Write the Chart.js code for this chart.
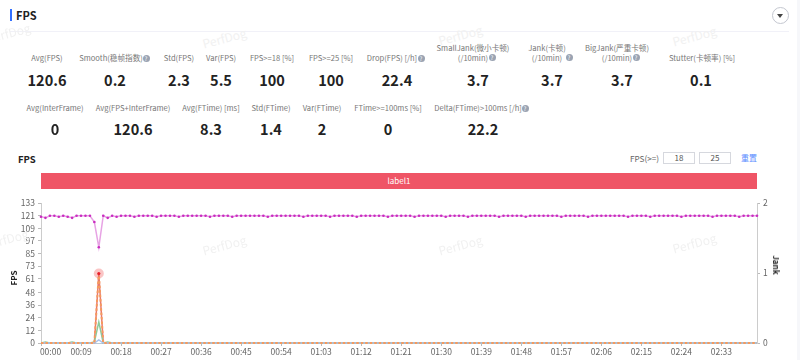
<!DOCTYPE html>
<html>
<head>
<meta charset="utf-8">
<title>FPS</title>
<script src="https://cdn.jsdelivr.net/npm/chart.js@4/dist/chart.umd.min.js"></script>
<style>
    html, body { margin: 0; padding: 0; background: #fff; }
    body { position: relative; width: 800px; height: 360px; overflow: hidden; font-family: "Noto Sans CJK SC", "Noto Sans", sans-serif; }
    body > * { position: absolute; }
    .side { left: 797px; top: 0; width: 3px; height: 360px; background: #f6f7fa; }
    .bar { left: 10px; top: 9px; width: 2px; height: 12px; background: #3370ff; }
    .head { left: 16px; top: 7px; font-size: 11px; font-weight: 700; line-height: 16px; color: #222; }
    .divider { left: 10px; top: 31px; width: 779px; height: 1px; background: #f1f1f8; }
    .toggle { left: 772px; top: 7px; width: 15px; height: 15px; border: 1px solid #c4c7d0; border-radius: 50%; }
    .toggle:after { content: ""; position: absolute; left: 4px; top: 6px; border: 3.5px solid transparent; border-top: 4px solid #444; border-bottom: 0; }
    .label, .value { transform: translateX(-50%); white-space: nowrap; text-align: center; }
    .label { font-size: 7.6px; line-height: 10px; color: #777; }
    .value { font-size: 14.5px; font-weight: 700; line-height: 18px; color: #222; }
    .help { width: 7px; height: 7px; border-radius: 50%; background: #9aa3b2; color: #fff; font-size: 6px; line-height: 7px; text-align: center; }
    .mark { font-size: 12px; line-height: 14px; color: #f1f1f1; transform: rotate(-15deg); white-space: nowrap; }
    .sub { left: 18px; top: 152px; font-size: 9.5px; font-weight: 700; line-height: 14px; color: #222; }
    .thr { left: 630px; top: 153px; font-size: 8.2px; line-height: 11px; color: #666; }
    .inp { top: 152px; width: 30px; height: 10px; border: 1px solid #d6d8de; font-size: 8px; line-height: 10px; text-align: center; color: #555; }
    .reset { left: 741px; top: 152px; font-size: 8px; line-height: 12px; color: #5b8cff; }
    .band { left: 41px; top: 173px; width: 716px; height: 16px; background: #ef5566; color: #fff; font-size: 8px; line-height: 16px; text-align: center; }
    canvas { left: 0; top: 195px; }
    .axis { font-size: 8px; font-weight: 700; line-height: 10px; color: #222; white-space: nowrap; }
</style>
</head>
<body>
<div class="side"></div>
<div class="bar"></div>
<div class="head">FPS</div>
<div class="divider"></div>
<div class="toggle"></div>
<div class="sub">FPS</div>
<div class="thr">FPS(&gt;=)</div>
<div class="inp" style="left:663px">18</div>
<div class="inp" style="left:699px">25</div>
<div class="reset">重置</div>
<div class="band">label1</div>
<canvas id="fpsChart" width="800" height="165"></canvas>
<div class="axis" style="left:14px;top:278px;transform:translate(-50%,-50%) rotate(-90deg)">FPS</div>
<div class="axis" style="left:776px;top:265px;transform:translate(-50%,-50%) rotate(90deg)">Jank</div>

<script>
// 차트 데이터
const xTickLabels = ['00:00', '00:09', '00:18', '00:27', '00:36', '00:45', '00:54', '01:03', '01:12', '01:21', '01:30', '01:39', '01:48', '01:57', '02:06', '02:15', '02:24', '02:33'];
const yTickValues = [0, 12, 24, 36, 48, 61, 73, 85, 97, 109, 121, 133];
const jankTickValues = [0, 1, 2];

const fpsValues = [
    120, 119, 121, 121, 120, 121, 120, 119, 121, 121, 121, 121, 115, 91, 121, 119, 121, 120,
    121, 121, 121, 120, 121, 121, 121, 121, 120, 121, 121, 121, 121, 120, 121, 121, 121, 121,
    121, 121, 120, 121, 121, 121, 121, 120, 121, 121, 121, 121, 121, 121, 121, 120, 121, 121,
    121, 121, 121, 121, 121, 120, 121, 121, 121, 121, 121, 120, 121, 121, 121, 121, 121, 120,
    121, 121, 121, 121, 121, 121, 120, 121, 121, 121, 121, 121, 120, 121, 121, 121, 121, 121,
    121, 120, 121, 121, 121, 121, 120, 121, 121, 121, 121, 121, 121, 120, 121, 121, 121, 121,
    121, 120, 121, 121, 121, 121, 121, 121, 121, 120, 121, 121, 121, 121, 121, 120, 121, 121,
    121, 121, 121, 121, 121, 121, 120, 121, 121, 121, 121, 120, 121, 121, 121, 121, 121, 121,
    120, 121, 121, 121, 121, 121, 121, 120, 121, 121, 121, 121, 121, 120, 121, 121, 121, 121
];
const smallJankValues = [
    0, 0, 0, 0, 0, 0, 0, 0, 0, 0, 0, 0, 0, 66, 0, 0, 0, 0,
    0, 0, 0, 0, 0, 0, 0, 0, 0, 0, 0, 0, 0, 0, 0, 0, 0, 0,
    0, 0, 0, 0, 0, 0, 0, 0, 0, 0, 0, 0, 0, 0, 0, 0, 0, 0,
    0, 0, 0, 0, 0, 0, 0, 0, 0, 0, 0, 0, 0, 0, 0, 0, 0, 0,
    0, 0, 0, 0, 0, 0, 0, 0, 0, 0, 0, 0, 0, 0, 0, 0, 0, 0,
    0, 0, 0, 0, 0, 0, 0, 0, 0, 0, 0, 0, 0, 0, 0, 0, 0, 0,
    0, 0, 0, 0, 0, 0, 0, 0, 0, 0, 0, 0, 0, 0, 0, 0, 0, 0,
    0, 0, 0, 0, 0, 0, 0, 0, 0, 0, 0, 0, 0, 0, 0, 0, 0, 0,
    0, 0, 0, 0, 0, 0, 0, 0, 0, 0, 0, 0, 0, 0, 0, 0, 0, 0
];
const greenValues = [
    0, 1, 0, 0, 0, 0, 0, 1, 0, 0, 0, 0, 1, 20, 0, 1, 0, 0,
    0, 0, 0, 0, 0, 0, 0, 0, 0, 0, 0, 0, 0, 0, 0, 0, 0, 0,
    0, 0, 0, 0, 0, 0, 0, 0, 0, 0, 0, 0, 0, 0, 0, 0, 0, 0,
    0, 0, 0, 0, 0, 0, 0, 0, 0, 0, 0, 0, 0, 0, 0, 0, 0, 0,
    0, 0, 0, 0, 0, 0, 0, 0, 0, 0, 0, 0, 0, 0, 0, 0, 0, 0,
    0, 0, 0, 0, 0, 0, 0, 0, 0, 0, 0, 0, 0, 0, 0, 0, 0, 0,
    0, 0, 0, 0, 0, 0, 0, 0, 0, 0, 0, 0, 0, 0, 0, 0, 0, 0,
    0, 0, 0, 0, 0, 0, 0, 0, 0, 0, 0, 0, 0, 0, 0, 0, 0, 0,
    0, 0, 0, 0, 0, 0, 0, 0, 0, 0, 0, 0, 0, 0, 0, 0, 0, 0
];
const blueValues = [
    0, 0, 0, 0, 0, 0, 0, 0, 0, 0, 0, 0, 0, 3, 0, 0, 0, 0,
    0, 0, 0, 0, 0, 0, 0, 0, 0, 0, 0, 0, 0, 0, 0, 0, 0, 0,
    0, 0, 0, 0, 0, 0, 0, 0, 0, 0, 0, 0, 0, 0, 0, 0, 0, 0,
    0, 0, 0, 0, 0, 0, 0, 0, 0, 0, 0, 0, 0, 0, 0, 0, 0, 0,
    0, 0, 0, 0, 0, 0, 0, 0, 0, 0, 0, 0, 0, 0, 0, 0, 0, 0,
    0, 0, 0, 0, 0, 0, 0, 0, 0, 0, 0, 0, 0, 0, 0, 0, 0, 0,
    0, 0, 0, 0, 0, 0, 0, 0, 0, 0, 0, 0, 0, 0, 0, 0, 0, 0,
    0, 0, 0, 0, 0, 0, 0, 0, 0, 0, 0, 0, 0, 0, 0, 0, 0, 0,
    0, 0, 0, 0, 0, 0, 0, 0, 0, 0, 0, 0, 0, 0, 0, 0, 0, 0
];

// 상단 통계 항목 [라벨, 값, 라벨 x, 값 x, 라벨 y, 도움말 x]
const statRows = [
    ['Avg(FPS)', '120.6', 47, 47, 53],
    ['Smooth(稳帧指数)', '0.2', 111, 115, 53, 146],
    ['Std(FPS)', '2.3', 179, 179, 53],
    ['Var(FPS)', '5.5', 221, 221, 53],
    ['FPS>=18 [%]', '100', 272, 272, 53],
    ['FPS>=25 [%]', '100', 331, 331, 53],
    ['Drop(FPS) [/h]', '22.4', 392, 397, 53, 421],
    ['SmallJank(微小卡顿)<br>(/10min)', '3.7', 473, 478, 43, 492],
    ['Jank(卡顿)<br>(/10min)', '3.7', 547, 552, 43, 569],
    ['BigJank(严重卡顿)<br>(/10min)', '3.7', 617, 622, 43, 636],
    ['Stutter(卡顿率) [%]', '0.1', 702, 701, 53],
    ['Avg(InterFrame)', '0', 55, 55, 103],
    ['Avg(FPS+InterFrame)', '120.6', 133, 133, 103],
    ['Avg(FTime) [ms]', '8.3', 211, 211, 103],
    ['Std(FTime)', '1.4', 271, 271, 103],
    ['Var(FTime)', '2', 322, 322, 103],
    ['FTime>=100ms [%]', '0', 388, 388, 103],
    ['Delta(FTime)>100ms [/h]', '22.2', 478, 483, 103, 525]
];
const watermarks = [[-14, 26], [202, 31], [438, 28], [672, 29], [-16, 232], [202, 238], [438, 238], [672, 236]];

function addEl(className, html, style) {
    const el = document.createElement('div');
    el.className = className;
    el.innerHTML = html;
    el.style.cssText = style;
    document.body.appendChild(el);
}

statRows.forEach(row => {
    const valueTop = row[4] >= 103 ? 120 : 71;
    addEl('label', row[0].replace('>=', '&gt;=').replace(')>', ')&gt;'), `left:${row[2]}px;top:${row[4]}px`);
    addEl('value', row[1], `left:${row[3]}px;top:${valueTop}px`);
    if (row[5]) {
        addEl('help', '?', `left:${row[5] - 3.5}px;top:${row[4] === 43 ? 54 : row[4] + 1.5}px`);
    }
});
watermarks.forEach(pos => addEl('mark', 'PerfDog', `left:${pos[0]}px;top:${pos[1]}px`));

const categories = fpsValues.map((v, i) => {
    const mm = String(Math.floor(i / 60)).padStart(2, '0');
    const ss = String(i % 60).padStart(2, '0');
    return mm + ':' + ss;
});
const peakIndex = smallJankValues.indexOf(Math.max(...smallJankValues));
const tickFont = { family: '"Noto Sans CJK SC", "Noto Sans", sans-serif', size: 8.5 };

new Chart(document.getElementById('fpsChart'), {
    type: 'line',
    data: {
        labels: categories,
        datasets: [
            {
                label: 'Red',
                data: smallJankValues,
                borderColor: '#e8796e',
                borderWidth: 1.5,
                clip: false,
                pointRadius: ctx => ctx.dataIndex === peakIndex ? 5 : 0,
                pointBackgroundColor: 'rgba(240, 90, 90, 0.35)',
                pointBorderWidth: 0,
                order: 5
            },
            { label: 'Green', data: greenValues, borderColor: '#8ccb9c', borderWidth: 1.5, clip: false, pointRadius: 0, order: 4 },
            { label: 'Blue', data: blueValues, borderColor: '#a9c3ee', borderWidth: 1.5, clip: false, pointRadius: 0, order: 3 },
            {
                label: 'Orange',
                data: smallJankValues,
                borderColor: '#f59a5e',
                borderWidth: 2,
                borderDash: [2.5, 2],
                clip: false,
                pointRadius: ctx => ctx.dataIndex === peakIndex ? 1.6 : 0,
                pointBackgroundColor: '#e8202a',
                pointBorderWidth: 0,
                order: 2
            },
            {
                label: 'FPS',
                data: fpsValues,
                borderColor: '#e7a3e4',
                borderWidth: 1.5,
                pointRadius: 1.3,
                pointBackgroundColor: '#c92cc0',
                pointBorderWidth: 0,
                order: 1
            }
        ]
    },
    options: {
        responsive: false,
        animation: false,
        layout: { padding: { top: 7 } },
        plugins: { legend: { display: false }, tooltip: { enabled: false } },
        scales: {
            x: {
                afterFit: scale => { scale.height = 17; },
                afterBuildTicks: scale => {
                    scale.ticks = xTickLabels.map(label => ({ value: categories.indexOf(label) }));
                },
                border: { color: '#b9c9d6' },
                grid: { drawOnChartArea: false, tickLength: 3, color: '#bbbbbb' },
                ticks: {
                    autoSkip: false,
                    maxRotation: 0,
                    padding: 1,
                    color: '#666',
                    font: tickFont,
                    // 첫 라벨은 축 안쪽으로 밀려 있음
                    callback: function(value, index) {
                        return index === 0 ? '\u00a0'.repeat(10) + xTickLabels[0] : xTickLabels[index];
                    }
                }
            },
            y: {
                min: 0,
                max: 133,
                afterFit: scale => { scale.width = 41; },
                afterBuildTicks: scale => {
                    scale.ticks = yTickValues.map(v => ({ value: v }));
                },
                border: { color: '#cccccc' },
                grid: { drawOnChartArea: false, tickLength: 3, color: '#bbbbbb' },
                ticks: { autoSkip: false, padding: 3, color: '#666', font: tickFont }
            },
            yJank: {
                position: 'right',
                min: 0,
                max: 2,
                afterFit: scale => { scale.width = 43; },
                afterBuildTicks: scale => {
                    scale.ticks = jankTickValues.map(v => ({ value: v }));
                },
                border: { color: '#cccccc', width: 1 },
                grid: { drawOnChartArea: false, tickLength: 3, color: '#bbbbbb' },
                ticks: { autoSkip: false, padding: 3, color: '#666', font: tickFont }
            }
        }
    }
});
</script>
</body>
</html>
